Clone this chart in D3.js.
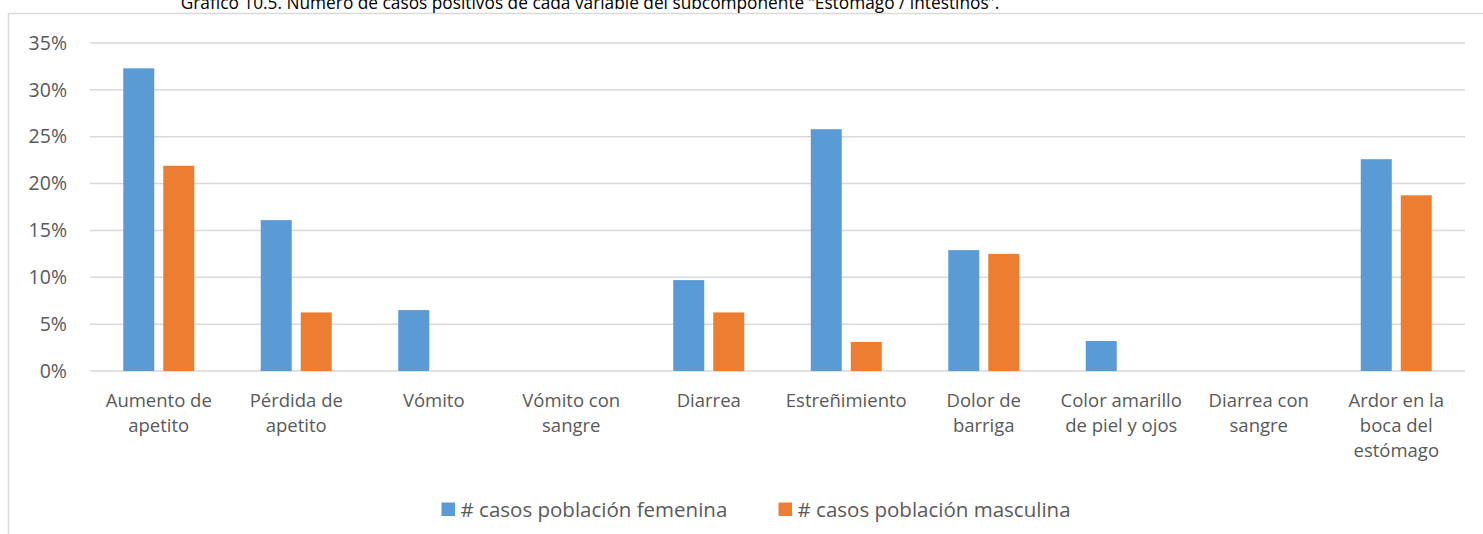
<!DOCTYPE html>
<html lang="es">
<head>
    <meta charset="UTF-8">
    <script src="https://d3js.org/d3.v7.min.js" charset="utf-8"></script>
    <title>Gráfico 10.5</title>
    <style>
        body { margin: 0; background: white; }
        svg { display: block; font-family: "Open Sans", sans-serif; }
    </style>
</head>
<body>
    <div class="chart"></div>

    <script>
        const svgWidth = 1483;
        const svgHeight = 534;

        // data (share of positive cases per variable)
        const categories = [
            "Aumento de\napetito", "Pérdida de\napetito", "Vómito", "Vómito con\nsangre", "Diarrea",
            "Estreñimiento", "Dolor de\nbarriga", "Color amarillo\nde piel y ojos", "Diarrea con\nsangre",
            "Ardor en la\nboca del\nestómago"
        ];
        const series = ["# casos población femenina", "# casos población masculina"];
        const femenina = [0.323, 0.161, 0.065, 0, 0.097, 0.258, 0.129, 0.032, 0, 0.226];
        const masculina = [0.219, 0.0625, 0, 0, 0.0625, 0.031, 0.125, 0, 0, 0.1875];
        const yTicks = [0, 0.05, 0.10, 0.15, 0.20, 0.25, 0.30, 0.35];
        const colors = ["#5B9BD5", "#ED7D31"];
        const title = "Gráfico 10.5. Número de casos positivos de cada variable del subcomponente \u201CEstómago / intestinos\u201D.";

        const svg = d3.select(".chart").append("svg")
            .attr("width", svgWidth)
            .attr("height", svgHeight);

        // chart frame (only left + top edges visible)
        svg.append("rect")
            .attr("x", 8.5).attr("y", 13.5)
            .attr("width", 1500).attr("height", 540)
            .attr("fill", "none")
            .attr("stroke", "#d9d9d9")
            .attr("stroke-width", 1.5);

        // title, half cut off at the top like the source
        svg.append("text")
            .attr("x", 590).attr("y", 9)
            .attr("text-anchor", "middle")
            .attr("font-size", 17.3)
            .attr("fill", "#000")
            .text(title);

        // Scales
        const x0 = d3.scaleBand().domain(categories).range([90, 1465]).padding(0);
        const x1 = d3.scaleBand().domain(series).range([33.25, 104.25]).paddingInner(0.225);
        const y = d3.scaleLinear().domain([0, 0.35]).range([371, 43]);

        // gridlines
        svg.append("g")
            .selectAll("line")
            .data(yTicks)
            .join("line")
            .attr("x1", 90).attr("x2", 1465)
            .attr("y1", d => y(d)).attr("y2", d => y(d))
            .attr("stroke", "#d9d9d9")
            .attr("stroke-width", 1.5);

        // y axis labels
        const yAxis = d3.axisLeft(y).tickValues(yTicks).tickFormat(d3.format(".0%")).tickSize(0).tickPadding(0);
        const yG = svg.append("g").attr("transform", "translate(67,0)").call(yAxis);
        yG.select(".domain").remove();
        yG.selectAll("text")
            .attr("font-family", "Open Sans")
            .attr("font-size", 19.5)
            .attr("fill", "#595959");

        // bars
        const rows = categories.map((c, i) => ({ cat: c, vals: [femenina[i], masculina[i]] }));
        svg.append("g")
            .selectAll("g")
            .data(rows)
            .join("g")
            .attr("transform", d => `translate(${x0(d.cat)},0)`)
            .selectAll("rect")
            .data(d => d.vals.map((v, j) => ({ s: series[j], v: v, j: j })))
            .join("rect")
            .attr("x", d => x1(d.s))
            .attr("width", x1.bandwidth())
            .attr("y", d => y(d.v))
            .attr("height", d => y(0) - y(d.v))
            .attr("fill", d => colors[d.j]);

        // category labels
        const xAxis = d3.axisBottom(x0).tickSize(0).tickFormat("");
        const xG = svg.append("g").attr("transform", "translate(0,371)").call(xAxis);
        xG.select(".domain").remove();
        xG.selectAll(".tick").each(function (d) {
            const t = d3.select(this).append("text")
                .attr("text-anchor", "middle")
                .attr("font-family", "Open Sans")
                .attr("font-size", 18.5)
                .attr("fill", "#595959");
            d.split("\n").forEach((line, k) => {
                t.append("tspan").attr("x", 0).attr("y", 36 + k * 25).text(line);
            });
        });

        // legend
        const legendX = [441.5, 778.5];
        const legend = svg.append("g")
            .selectAll("g")
            .data(series)
            .join("g")
            .attr("transform", (d, i) => `translate(${legendX[i]},502.5)`);
        legend.append("rect")
            .attr("width", 13.5).attr("height", 13.5)
            .attr("fill", (d, i) => colors[i]);
        legend.append("text")
            .attr("x", 19).attr("y", 14.5)
            .attr("font-size", 20.5)
            .attr("fill", "#595959")
            .text(d => d);
    </script>
</body>
</html>
